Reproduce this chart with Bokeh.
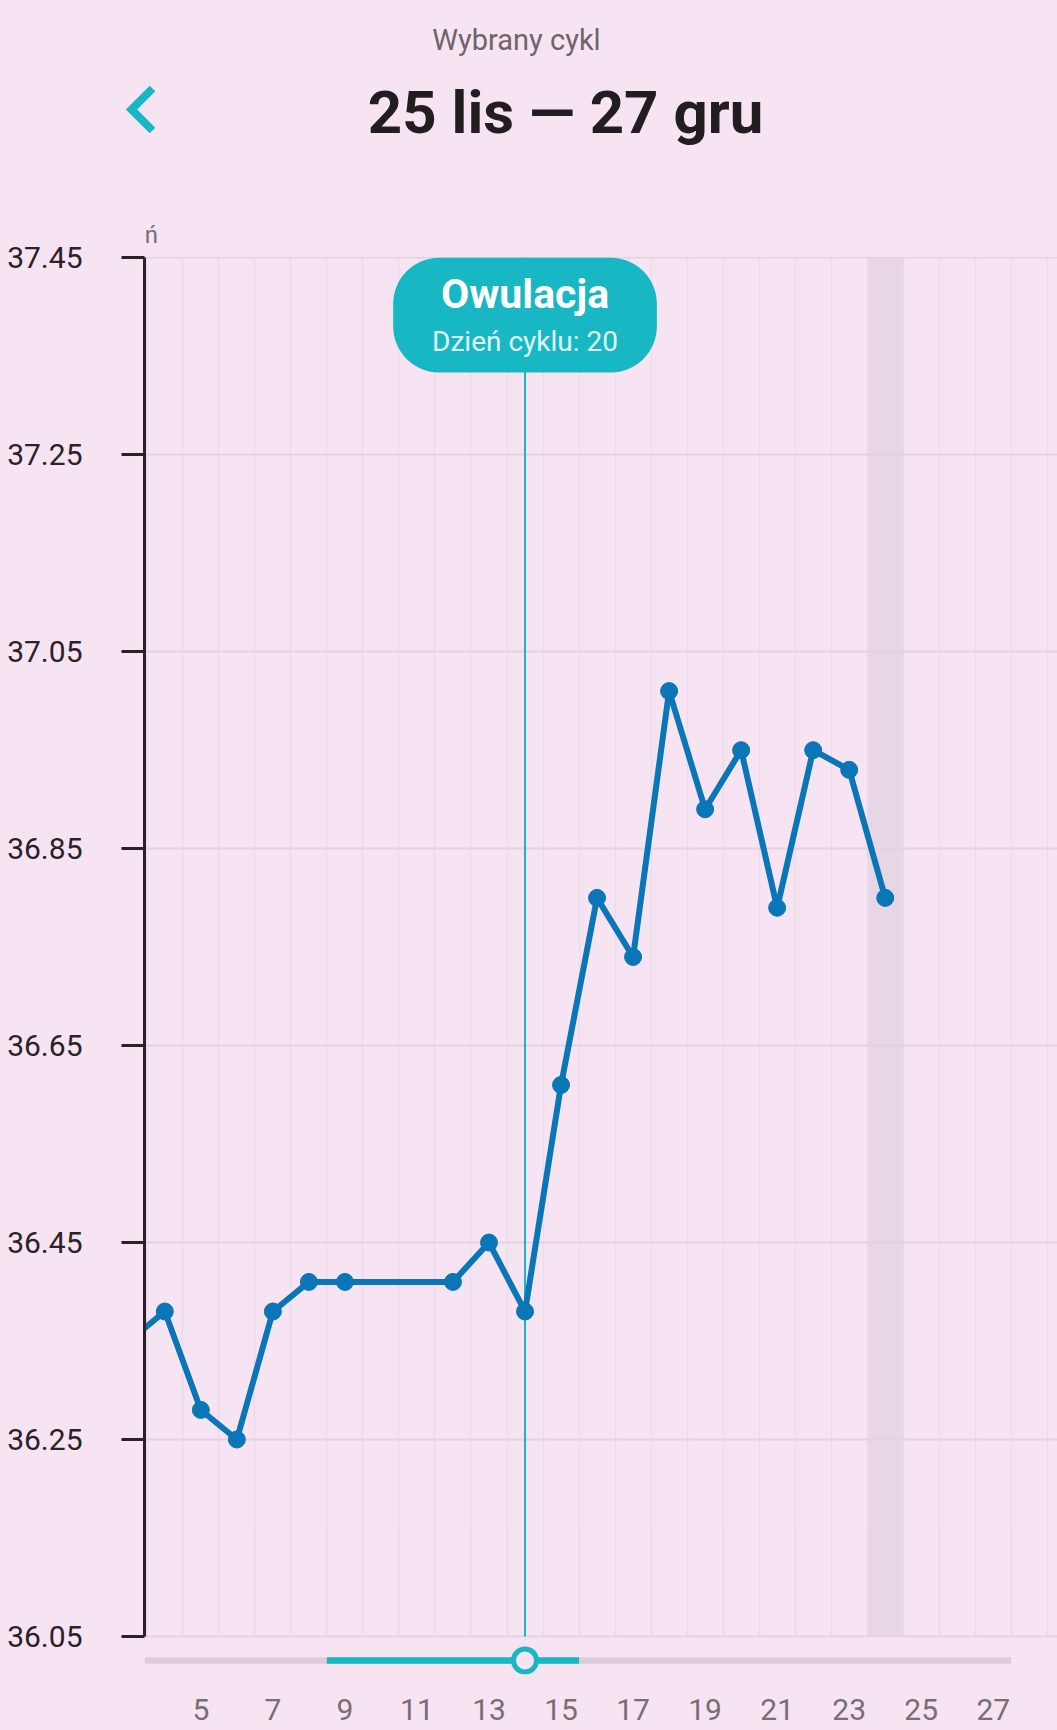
from bokeh.plotting import figure
from bokeh.layouts import column
from bokeh.models import Range1d, FixedTicker, BoxAnnotation, Label, PolyAnnotation
from bokeh.embed import file_html
from bokeh.resources import INLINE

# ---------------- data ----------------
days = [3, 4, 5, 6, 7, 8, 9, 12, 13, 14, 15, 16, 17, 18, 19, 20, 21, 22, 23, 24]
temps = [36.35, 36.38, 36.28, 36.25, 36.38, 36.41, 36.41, 36.41, 36.45, 36.38,
         36.61, 36.80, 36.74, 37.01, 36.89, 36.95, 36.79, 36.95, 36.93, 36.80]
y_ticks = [36.05, 36.25, 36.45, 36.65, 36.85, 37.05, 37.25, 37.45]
x_ticks = [5, 7, 9, 11, 13, 15, 17, 19, 21, 23, 25, 27]
ovulation_day = 14
ovulation_title = "Owulacja"
ovulation_sub = "Dzień cyklu: 20"
header_sub = "Wybrany cykl"
header_title = "25 lis \u2014 27 gru"
unit_label = "ń"
shaded_day = 24
window_days = [9, 15]
last_day = 27

# ---------------- styles / layout ----------------
TEAL = "#17b7c3"
BLUE = "#0a76b8"
BG = "#f6e4f3"
FONT = "Roboto"

PAGE_W, PAGE_H = 1057, 1730
HEAD_H = 200
MAIN_H = PAGE_H - HEAD_H
FRAME_LEFT_PX = 144          # page x of y axis
FRAME_BOTTOM_PX = 1674       # page y of frame bottom
PX_PER_DAY = 36.02
PX_PER_DEG = 984.75
TOP_TICK_PX = 257.3          # page y of top tick
X_START = 3.436

def X(px):
    return X_START + (px - FRAME_LEFT_PX) / PX_PER_DAY

def Y(py):
    return y_ticks[-1] - (py - TOP_TICK_PX) / PX_PER_DEG

# ---------------- header figure ----------------
h = figure(width=PAGE_W, height=HEAD_H, output_backend="svg", toolbar_location=None,
           x_range=Range1d(0, PAGE_W), y_range=Range1d(HEAD_H, 0),
           x_axis_type=None, y_axis_type=None,
           min_border_left=0, min_border_right=0, min_border_top=0,
           min_border_bottom=0)
h.frame_align = False
h.title = None
h.grid.visible = False
h.outline_line_color = None
h.background_fill_color = BG
h.border_fill_color = BG
h.add_layout(Label(x=516, y=39, text=header_sub, text_align="center",
                   text_baseline="middle", text_font=FONT,
                   text_font_size="29px", text_color="#6e6469"))
h.add_layout(Label(x=565, y=112, text=header_title, text_align="center",
                   text_baseline="middle", text_font=FONT,
                   text_font_style="bold", text_font_size="60px",
                   text_color="#231c20"))
chev_x = [149.2, 154.8, 136.7, 154.8, 149.2, 125.3]
chev_y = [85.2, 90.8, 109.0, 127.2, 132.8, 109.0]
h.add_layout(PolyAnnotation(xs=chev_x, ys=chev_y, fill_color=TEAL, fill_alpha=1,
                            line_alpha=0))

# ---------------- main chart ----------------
FRAME_W = PAGE_W - FRAME_LEFT_PX
x_end = X_START + FRAME_W / PX_PER_DAY
p = figure(width=PAGE_W, height=MAIN_H, output_backend="svg", toolbar_location=None,
           x_range=Range1d(X_START, x_end),
           y_range=Range1d(Y(FRAME_BOTTOM_PX), Y(HEAD_H)),
           min_border_left=FRAME_LEFT_PX, min_border_top=0,
           min_border_bottom=PAGE_H - FRAME_BOTTOM_PX, min_border_right=0)
p.frame_align = False
p.title = None
p.outline_line_color = None
p.background_fill_color = BG
p.border_fill_color = BG

# grids
p.ygrid.ticker = FixedTicker(ticks=y_ticks)
p.ygrid.grid_line_color = "#e4d2e0"
p.ygrid.grid_line_width = 2
cell_edges = [d + 0.5 for d in range(int(X_START) - 1, last_day + 2)]
p.xgrid.ticker = FixedTicker(ticks=cell_edges)
p.xgrid.grid_line_color = "#ebdae8"
p.xgrid.grid_line_width = 1.5

# shaded day (behind grid)
p.add_layout(BoxAnnotation(left=shaded_day - 0.5, right=shaded_day + 0.5,
                           bottom=y_ticks[0], top=y_ticks[-1], fill_color="#e7d6e6",
                           fill_alpha=1, line_alpha=0, level="image"))
# masks: no grid outside the chart area
p.add_layout(BoxAnnotation(top=y_ticks[0] - 0.001, fill_color=BG, fill_alpha=1,
                           line_alpha=0, level="underlay"))
p.add_layout(BoxAnnotation(bottom=y_ticks[-1] + 0.001, fill_color=BG, fill_alpha=1,
                           line_alpha=0, level="underlay"))

# y axis
ya = p.yaxis[0]
ya.ticker = FixedTicker(ticks=y_ticks)
ya.bounds = (y_ticks[0], y_ticks[-1])
ya.axis_line_width = 3
ya.axis_line_color = "#2a2226"
ya.major_tick_line_width = 3
ya.major_tick_line_color = "#2a2226"
ya.major_tick_out = 23
ya.major_tick_in = 0
ya.minor_tick_line_color = None
ya.major_label_standoff = 39
ya.major_label_text_font = FONT
ya.major_label_text_font_size = "30px"
ya.major_label_text_color = "#2a2226"

# x axis
xa = p.xaxis[0]
xa.ticker = FixedTicker(ticks=x_ticks)
xa.axis_line_color = None
xa.major_tick_line_color = None
xa.minor_tick_line_color = None
xa.major_tick_out = 0
xa.major_tick_in = 0
xa.major_label_standoff = 24
xa.major_label_text_font = FONT
xa.major_label_text_font_size = "30px"
xa.major_label_text_color = "#7b6c75"

# ovulation line
p.segment(x0=[ovulation_day], y0=[y_ticks[0]], x1=[ovulation_day], y1=[y_ticks[-1]],
          line_color=TEAL, line_width=2)

# temperature line
p.line(days, temps, line_color=BLUE, line_width=6)
p.scatter(days, temps, size=17, fill_color=BLUE, line_color=BLUE)

# slider
slider_y = Y(1660)
p.segment(x0=[X_START], y0=[slider_y], x1=[last_day + 0.5], y1=[slider_y],
          line_color="#dccbdd", line_width=6.5, line_cap="butt")
p.segment(x0=[window_days[0] - 0.5], y0=[slider_y], x1=[window_days[1] + 0.5],
          y1=[slider_y], line_color=TEAL, line_width=6.5, line_cap="butt")
p.scatter([ovulation_day], [slider_y], size=23, fill_color=BG, line_color=TEAL,
          line_width=5)

# ovulation badge
p.add_layout(BoxAnnotation(left=ovulation_day - 3.66, right=ovulation_day + 3.66,
                           top=y_ticks[-1], bottom=Y(372), fill_color=TEAL,
                           fill_alpha=1, line_alpha=0, border_radius=46))
p.add_layout(Label(x=ovulation_day, y=Y(293), text=ovulation_title,
                   text_align="center", text_baseline="middle",
                   text_font=FONT, text_font_style="bold",
                   text_font_size="41px", text_color="white"))
p.add_layout(Label(x=ovulation_day, y=Y(341), text=ovulation_sub,
                   text_align="center", text_baseline="middle",
                   text_font=FONT, text_font_size="28px",
                   text_color="#e3f7f8"))

# unit label above the axis
p.add_layout(Label(x=X(151), y=Y(234), text=unit_label, text_align="center",
                   text_baseline="middle", text_font=FONT,
                   text_font_size="24px", text_color="#7b6c75"))

layout = column(h, p, spacing=0, styles={"background-color": BG})
open("out.html", "w").write(file_html(layout, INLINE))
